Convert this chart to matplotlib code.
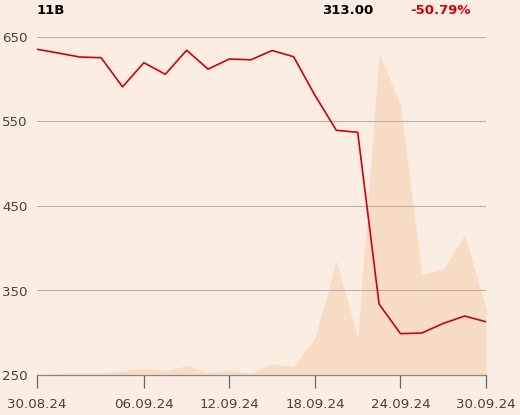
import matplotlib
matplotlib.use("Agg")
import matplotlib.pyplot as plt
import numpy as np

dates = ["30.08.24", "02.09.24", "03.09.24", "04.09.24", "05.09.24", "06.09.24",
         "09.09.24", "10.09.24", "11.09.24", "12.09.24", "13.09.24", "16.09.24",
         "17.09.24", "18.09.24", "19.09.24", "20.09.24", "23.09.24", "24.09.24",
         "25.09.24", "26.09.24", "27.09.24", "30.09.24"]
price = [635.5, 631.0, 626.3, 625.5, 591.0, 619.6, 605.9, 634.3, 612.0, 624.0,
         623.0, 634.0, 626.7, 581.0, 539.6, 537.2, 334.0, 298.9, 299.7, 311.0,
         319.8, 313.0]
volume = [1000, 1500, 2000, 2000, 4000, 7000, 4000, 9300, 2700, 4700,
          1700, 11300, 8300, 36700, 114300, 36700, 321700, 270000, 101000,
          105700, 140000, 66700]
tick_labels = ["30.08.24", "06.09.24", "12.09.24", "18.09.24", "24.09.24", "30.09.24"]
y_ticks = [250, 350, 450, 550, 650]
header_name = "11B"
header_price = "313.00"
header_change = "-50.79%"

bg = "#FBEDE1"
fig = plt.figure(figsize=(5.2, 4.15), dpi=100, facecolor=bg)
ax = fig.add_axes([37/520, 1-375/415, (486-37)/520, (375-37)/415])
x = np.arange(len(dates))

axv = ax.twinx()
axv.fill_between(x, 0, volume, color="#F7DCC6", lw=0, zorder=1)
axv.set_ylim(0, 338000)
axv.axis("off")
ax.set_zorder(axv.get_zorder() + 1)
ax.patch.set_visible(False)
axv.patch.set_visible(False)

ax.plot(x, price, color="#D0000B", lw=1.2, zorder=3)
ax.set_xlim(0, len(dates) - 1)
ax.set_ylim(250, 650)
ax.set_yticks(y_ticks)
ax.set_yticklabels([str(v) for v in y_ticks])
for v in y_ticks[1:]:
    ax.axhline(v, color="#B5B2AF", lw=0.8, zorder=0)
tick_pos = [dates.index(t) for t in tick_labels]
ax.set_xticks(tick_pos)
ax.set_xticklabels(tick_labels)
ax.tick_params(axis="x", direction="out", length=9.4, width=0.9, color="#666666",
               labelsize=9.6, labelcolor="#444444", pad=7)
ax.tick_params(axis="y", length=0, labelsize=9.6, labelcolor="#444444", pad=7)
for s in ["top", "right", "left"]:
    ax.spines[s].set_visible(False)
ax.spines["bottom"].set_color("#8A8886")
ax.spines["bottom"].set_linewidth(0.9)

fig.text(37/520, 1-10/415, header_name, fontsize=9.5, fontweight="bold", color="black", va="center", ha="left")
fig.text(322/520, 1-10/415, header_price, fontsize=9.5, fontweight="bold", color="black", va="center", ha="left")
fig.text(410/520, 1-10/415, header_change, fontsize=9.5, fontweight="bold", color="#D0000B", va="center", ha="left")

fig.savefig("out.png", dpi=100, facecolor=bg)
